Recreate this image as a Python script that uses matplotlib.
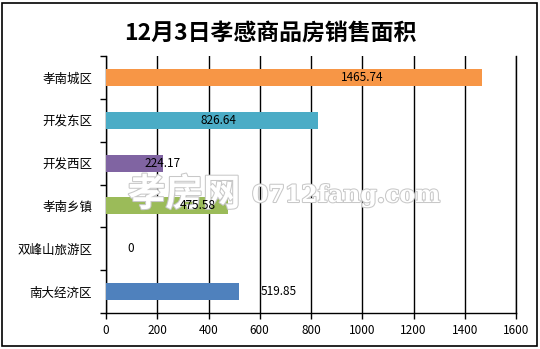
import matplotlib.pyplot as plt
import matplotlib.patheffects as pe
from matplotlib.patches import Rectangle
import numpy as np

plt.rcParams['font.family'] = ['Noto Sans CJK SC', 'DejaVu Sans']

regions = ['孝南城区', '开发东区', '开发西区', '孝南乡镇', '双峰山旅游区', '南大经济区']
areas = [1465.74, 826.64, 224.17, 475.58, 0, 519.85]
colors = ['#F79646', '#4BACC6', '#8064A2', '#9BBB59', '#4F81BD', '#4F81BD']
# where the value labels sit (x in data units), as in the original layout
label_x = [1000, 437, 222, 359, 98, 675]

fig = plt.figure(figsize=(5.4, 3.49), dpi=100)
fig.patches.append(Rectangle((2 / 540, 3 / 349), 535 / 540, 343 / 349, transform=fig.transFigure,
                             fill=False, edgecolor='black', linewidth=1.2))
ax = fig.add_axes([106 / 540, 1 - 313 / 349, 410 / 540, 257 / 349])

y = np.arange(len(regions))[::-1]
ax.barh(y, areas, height=0.4, color=colors, zorder=3)
for yi, v, lx in zip(y, areas, label_x):
    ax.text(lx, yi, f'{v:g}' if v == 0 else f'{v:.2f}', ha='center', va='center',
            fontsize=8.5, color='black', zorder=6)

ax.set_xlim(0, 1600)
ax.set_ylim(-0.5, len(regions) - 0.5)
ax.set_xticks(np.arange(0, 1601, 200))
ax.set_yticks(y)
ax.set_yticklabels(regions, fontsize=9)
ax.set_yticks(np.arange(-0.5, len(regions), 1), minor=True)
ax.tick_params(axis='y', which='major', length=0, pad=10)
ax.tick_params(axis='y', which='minor', length=4, width=1, direction='out')
ax.tick_params(axis='x', length=4, width=1, direction='out', labelsize=8.5, pad=4)
ax.grid(axis='x', color='black', linewidth=1, zorder=1)
ax.axvline(1600, color='black', linewidth=1, zorder=1, clip_on=False)
for s in ['top', 'right']:
    ax.spines[s].set_visible(False)
ax.spines['left'].set_linewidth(1)
ax.spines['bottom'].set_linewidth(1)

fig.text(0.5, 1 - 33 / 349, '12月3日孝感商品房销售面积', ha='center', va='center',
         fontsize=16.5, fontweight='bold')

# watermark, over the bars but under the value labels
wm = [pe.withStroke(linewidth=1.5, foreground='#c8c8c8')]
ax.text(128 / 540, 1 - 194 / 349, '孝房网', fontsize=27, fontweight='bold', color='white',
        va='center', ha='left', path_effects=wm, zorder=5, transform=fig.transFigure, clip_on=False)
ax.text(252 / 540, 1 - 195 / 349, '0712fang.com', fontsize=17, fontweight='bold',
        family='DejaVu Serif', color='white', va='center', ha='left', path_effects=wm, zorder=5,
        transform=fig.transFigure, clip_on=False)

fig.savefig('out.png', dpi=100)
